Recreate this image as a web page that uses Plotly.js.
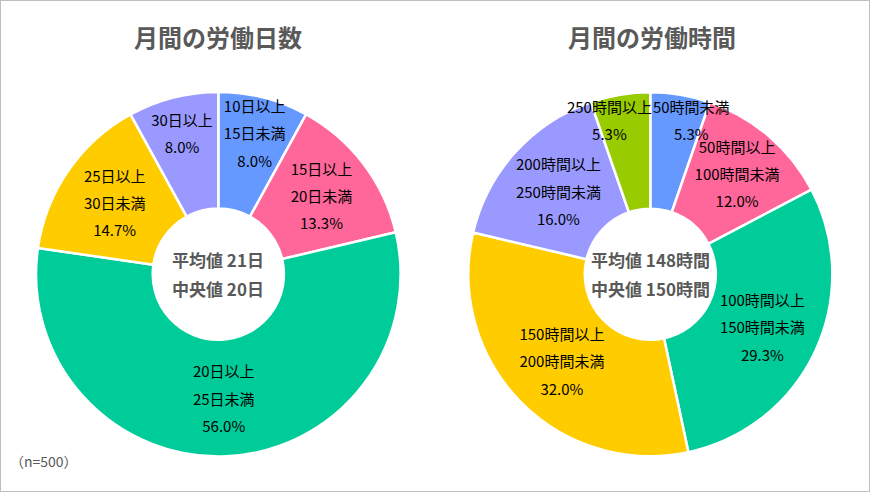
<!DOCTYPE html>
<html>
<head>
<meta charset="utf-8">
<script src="https://cdn.plot.ly/plotly-3.0.1.min.js"></script>
<style>
  html, body { margin: 0; padding: 0; background: #fff; }
  #chart { width: 870px; height: 492px; }
</style>
</head>
<body>
<div id="chart"></div>
<script>
// ---- Data ----
const dayTitle = '月間の労働日数';
const dayCategories = ['10日以上<br>15日未満', '15日以上<br>20日未満', '20日以上<br>25日未満', '25日以上<br>30日未満', '30日以上'];
const dayValues = [8.0, 13.3, 56.0, 14.7, 8.0];
const dayCenter = ['平均値 21日', '中央値 20日'];

const hourTitle = '月間の労働時間';
const hourCategories = ['50時間未満', '50時間以上<br>100時間未満', '100時間以上<br>150時間未満', '150時間以上<br>200時間未満', '200時間以上<br>250時間未満', '250時間以上'];
const hourValues = [5.3, 12.0, 29.3, 32.0, 16.0, 5.3];
const hourCenter = ['平均値 148時間', '中央値 150時間'];

const sampleNote = '（n=500）';

const dayColors = ['#6699FF', '#FF6699', '#00CC99', '#FFCC00', '#9999FF'];
const hourColors = ['#6699FF', '#FF6699', '#00CC99', '#FFCC00', '#9999FF', '#99CC00'];

const FONT = '"Noto Sans CJK JP", "Noto Sans", sans-serif';
const GRAY = '#595959';
const LABEL_SIZE = 15;   // visible glyph size
const LINE_SIZE = 21;    // drives the line spacing (1.3 x 21 ≈ 27px)
const SP = '\u3000';     // ideographic space used to nudge crowded labels sideways

// padding (in ideographic spaces) to push crowded labels apart: [left, right]
function templates(n, pads) {
  const out = [];
  for (let i = 0; i < n; i++) {
    const p = pads[i] || [0, 0];
    const L = SP.repeat(p[0]), R = SP.repeat(p[1]);
    out.push('<span style="font-size:' + LABEL_SIZE + 'px">' + L + '%{label}' + R +
             '<br>' + L + '%{text}' + R + '</span>');
  }
  return out;
}

function basePie(labels, values, xdom, ydom) {
  return {
    type: 'pie',
    labels: labels,
    values: values,
    sort: false,
    direction: 'clockwise',
    rotation: 0,
    hole: 0.36,
    domain: { x: xdom, y: ydom },
    hoverinfo: 'skip',
    showlegend: false
  };
}

// colored slices
function sliceTrace(labels, values, colors, xdom, ydom) {
  const t = basePie(labels, values, xdom, ydom);
  t.marker = { colors: colors, line: { color: '#FFFFFF', width: 2.5 } };
  t.textinfo = 'none';
  return t;
}

// transparent copy on top that carries the labels, so overflowing text is not hidden
function labelTrace(labels, values, xdom, ydom, pads) {
  const t = basePie(labels, values, xdom, ydom);
  t.marker = { colors: values.map(() => 'rgba(0,0,0,0)'), line: { width: 0 } };
  t.text = values.map(v => v.toFixed(1) + '%');
  t.texttemplate = templates(values.length, pads || {});
  t.textinfo = 'text';
  t.textposition = 'inside';
  t.insidetextorientation = 'horizontal';
  t.textfont = { family: FONT, size: LINE_SIZE, color: '#000000' };
  return t;
}

const LX = [0.0414, 0.4605], RX = [0.5383, 0.9567], DY = [0.0722, 0.8132];

const data = [
  sliceTrace(dayCategories, dayValues, dayColors, LX, DY),
  sliceTrace(hourCategories, hourValues, hourColors, RX, DY),
  labelTrace(dayCategories, dayValues, LX, DY),
  labelTrace(hourCategories, hourValues, RX, DY, {0: [2, 0], 5: [0, 2]})
];

function ann(text, x, y, size, bold, anchor) {
  return {
    text: bold ? '<b>' + text + '</b>' : text,
    x: x, y: y, xref: 'paper', yref: 'paper',
    xanchor: anchor || 'center', yanchor: 'middle',
    showarrow: false,
    font: { family: FONT, size: size, color: GRAY }
  };
}

const layout = {
  width: 870, height: 492,
  margin: { l: 0, r: 0, t: 0, b: 0 },
  paper_bgcolor: '#FFFFFF',
  showlegend: false,
  uniformtext: { mode: 'show', minsize: LINE_SIZE },
  annotations: [
    ann(dayTitle, 0.2506, 0.9248, 24, true),
    ann(hourTitle, 0.7494, 0.9248, 24, true),
    ann(dayCenter[0], 0.2509, 0.4735, 17, true),
    ann(dayCenter[1], 0.2509, 0.4146, 17, true),
    ann(hourCenter[0], 0.7475, 0.4735, 17, true),
    ann(hourCenter[1], 0.7475, 0.4146, 17, true),
    ann(sampleNote, 0.009, 0.064, 14, false, 'left')
  ],
  shapes: [{
    type: 'rect', xref: 'paper', yref: 'paper', x0: 0, x1: 1, y0: 0, y1: 1,
    line: { color: '#BFBFBF', width: 2 }, fillcolor: 'rgba(0,0,0,0)'
  }]
};

Plotly.newPlot('chart', data, layout, { displayModeBar: false, staticPlot: true });
</script>
</body>
</html>
